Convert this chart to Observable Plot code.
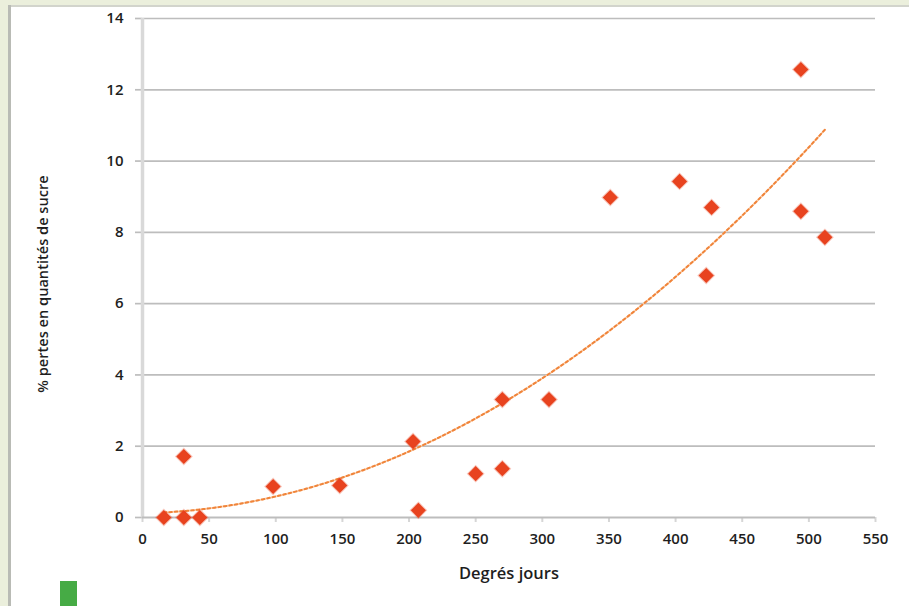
<!DOCTYPE html>
<html>
<head>
<meta charset="utf-8">
<script src="https://cdn.jsdelivr.net/npm/d3@7"></script>
<script src="https://cdn.jsdelivr.net/npm/@observablehq/plot@0.6"></script>
<style>
  html, body { margin: 0; padding: 0; background: #ffffff; }
  #wrap { position: relative; width: 909px; height: 606px; overflow: hidden; background: #ffffff; }
  #wrap svg { position: absolute; left: 0; top: 0; }
  .strip-top { position: absolute; left: 0; top: 0; width: 909px; height: 5px; background: #ebefdc; }
  .line-top { position: absolute; left: 8px; top: 5px; width: 901px; height: 2px; background: #d2d4cc; }
  .strip-left { position: absolute; left: 0; top: 0; width: 8px; height: 606px; background: #ebefdc; }
  .line-left { position: absolute; left: 8px; top: 5px; width: 3px; height: 601px; background: #b9bbb5; }
  .green { position: absolute; left: 60px; top: 581px; width: 17px; height: 25px; background: #46ab45; }
</style>
</head>
<body>
<div id="wrap"></div>
<script>
// Data
const degresJours = [16, 31, 31, 43, 98, 148, 203, 207, 250, 270, 270, 305, 351, 403, 423, 427, 494, 494, 512];
const pertes      = [0, 1.71, 0, 0, 0.87, 0.90, 2.13, 0.20, 1.23, 1.37, 3.31, 3.31, 8.98, 9.43, 6.79, 8.70, 12.57, 8.59, 7.86];
const xTicks = [0, 50, 100, 150, 200, 250, 300, 350, 400, 450, 500, 550];
const yTicks = [0, 2, 4, 6, 8, 10, 12, 14];
const xLabel = "Degrés jours";
const yLabel = "% pertes en quantités de sucre";

const points = degresJours.map((x, i) => ({x, y: pertes[i]}));

// Polynomial (order 2) trend line fitted by least squares to the data
function quadFit(xs, ys) {
  let S = [0,0,0,0,0], T = [0,0,0];
  xs.forEach((x, i) => {
    let p = 1;
    for (let k = 0; k < 5; k++) { S[k] += p; if (k < 3) T[k] += p * ys[i]; p *= x; }
  });
  const A = [[S[0],S[1],S[2],T[0]],[S[1],S[2],S[3],T[1]],[S[2],S[3],S[4],T[2]]];
  for (let c = 0; c < 3; c++) {
    for (let r = c + 1; r < 3; r++) {
      const f = A[r][c] / A[c][c];
      for (let k = c; k < 4; k++) A[r][k] -= f * A[c][k];
    }
  }
  const b = [0,0,0];
  for (let r = 2; r >= 0; r--) {
    let s = A[r][3];
    for (let k = r + 1; k < 3; k++) s -= A[r][k] * b[k];
    b[r] = s / A[r][r];
  }
  return b;
}
const coef = quadFit(degresJours, pertes);
const xmin = d3.min(degresJours), xmax = d3.max(degresJours);
const trend = d3.range(xmin, xmax + 0.5, 2).map(x => ({x, y: coef[0] + coef[1]*x + coef[2]*x*x}));

const font = "'Open Sans', 'Liberation Sans', sans-serif";

const chart = Plot.plot({
  width: 909,
  height: 606,
  marginLeft: 142,
  marginRight: 34,
  marginTop: 18,
  marginBottom: 89,
  style: {background: "transparent", fontFamily: font, fontSize: "15px", color: "#222"},
  x: {domain: [0, 550], ticks: xTicks},
  y: {domain: [0, 14], ticks: yTicks},
  marks: [
    Plot.ruleY(yTicks.filter(d => d > 0), {stroke: "#bdbdbd", strokeWidth: 1.7}),
    Plot.axisY({ticks: yTicks, tickSize: 7, tickPadding: 12, stroke: "#bdbdbd", strokeWidth: 1.7, label: null, fontWeight: 600, fontSize: 15, fill: "#1e1e1e"}),
    Plot.axisX({ticks: xTicks, tickSize: 5, tickPadding: 11, stroke: "#d6d6d6", strokeWidth: 2, label: null, fontWeight: 600, fontSize: 15, fill: "#1e1e1e"}),
    Plot.ruleX([0], {stroke: "#d9d9d9", strokeWidth: 3.5}),
    Plot.ruleY([0], {stroke: "#bdbdbd", strokeWidth: 2}),
    Plot.line(trend, {x: "x", y: "y", stroke: "#fbd3b3", strokeWidth: 2}),
    Plot.line(trend, {x: "x", y: "y", stroke: "#f0843a", strokeWidth: 2, strokeDasharray: "2.5,3"}),
    Plot.dot(points, {x: "x", y: "y", symbol: "diamond2", r: 6.8, fill: "#e8431f", stroke: "#e8431f", strokeWidth: 2, strokeOpacity: 0.3}),
    Plot.text([xLabel], {frameAnchor: "bottom", dy: 56, lineAnchor: "middle", textAnchor: "middle", fontSize: 16.5, fontWeight: 600, fill: "#1e1e1e", text: d => d}),
    Plot.text([yLabel], {frameAnchor: "left", dx: -99, dy: 16, rotate: -90, lineAnchor: "middle", textAnchor: "middle", fontSize: 14.6, fontWeight: 600, fill: "#1e1e1e", text: d => d})
  ]
});

const wrap = document.getElementById("wrap");
wrap.appendChild(chart);
for (const cls of ["strip-top", "strip-left", "line-top", "line-left", "green"]) {
  const d = document.createElement("div");
  d.className = cls;
  wrap.appendChild(d);
}
</script>
</body>
</html>
